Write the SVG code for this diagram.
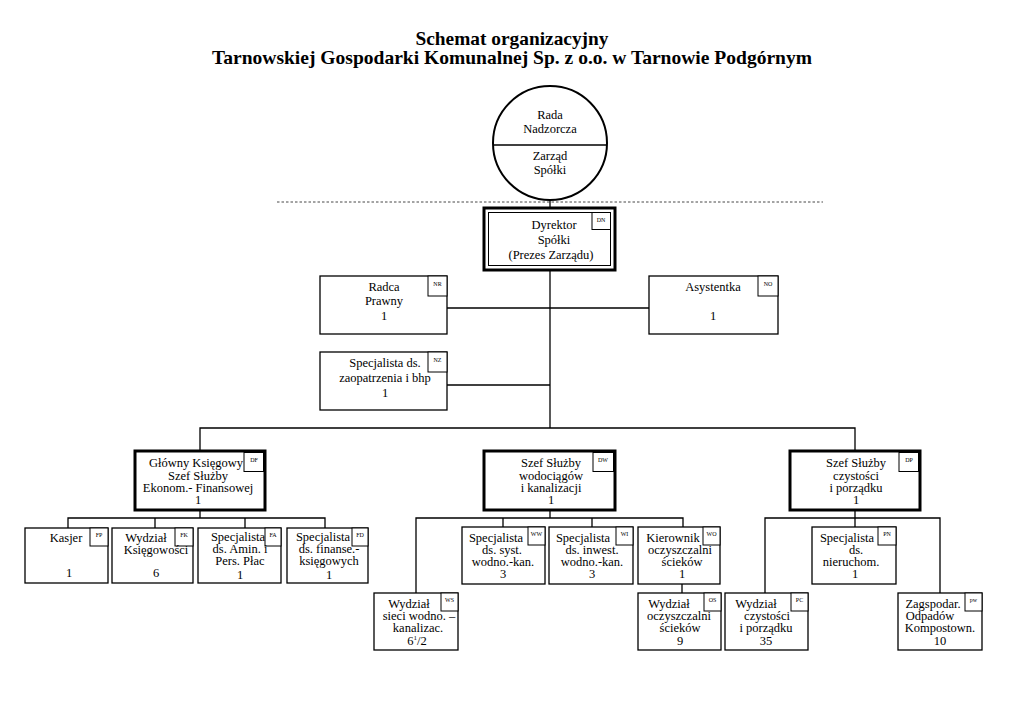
<svg xmlns="http://www.w3.org/2000/svg" width="1024" height="724" viewBox="0 0 1024 724">
<style>
text{font-family:"Liberation Serif","Times New Roman",serif;fill:#000}
.t{font-size:12.5px;text-anchor:middle}
.tag{font-size:6px;text-anchor:middle}
.title{font-size:19px;font-weight:bold;text-anchor:middle}
.box{fill:#fff;stroke:#000;stroke-width:1.3}
.head{fill:#fff;stroke:#000;stroke-width:3}
.tg{fill:#fff;stroke:#000;stroke-width:1}
.ln{fill:none;stroke:#000;stroke-width:1.3}
</style>
<rect width="1024" height="724" fill="#fff"/>
<g id="title">
<text class="title" x="512" y="45" textLength="193" lengthAdjust="spacingAndGlyphs">Schemat organizacyjny</text>
<text class="title" x="512" y="64" textLength="600" lengthAdjust="spacingAndGlyphs">Tarnowskiej Gospodarki Komunalnej Sp. z o.o. w Tarnowie Podgórnym</text>
</g>
<g id="connectors">
<line x1="277" y1="202" x2="823" y2="202" stroke="#333" stroke-width="0.9" stroke-dasharray="2.5,2"/>
<line class="ln" x1="550" y1="198" x2="550" y2="208"/>
<line class="ln" x1="550" y1="270" x2="550" y2="428"/>
<line class="ln" x1="447" y1="308" x2="649" y2="308"/>
<line class="ln" x1="447" y1="385" x2="550" y2="385"/>
<polyline class="ln" points="200,451 200,428 855,428 855,451"/>
<line class="ln" x1="200" y1="510" x2="200" y2="518"/>
<polyline class="ln" points="68,528 68,518 325,518 325,528"/>
<line class="ln" x1="155" y1="518" x2="155" y2="528"/>
<line class="ln" x1="245" y1="518" x2="245" y2="528"/>
<line class="ln" x1="550" y1="510" x2="550" y2="518"/>
<polyline class="ln" points="416,593 416,518 683,518 683,527"/>
<line class="ln" x1="503" y1="518" x2="503" y2="527"/>
<line class="ln" x1="592" y1="518" x2="592" y2="527"/>
<line class="ln" x1="682" y1="584" x2="682" y2="593"/>
<line class="ln" x1="855" y1="510" x2="855" y2="518"/>
<polyline class="ln" points="765,593 765,518 940,518 940,593"/>
<line class="ln" x1="855" y1="518" x2="855" y2="527"/>
</g>
<g id="rada">
<circle cx="550" cy="143" r="57" fill="#fff" stroke="#000" stroke-width="2"/>
<line x1="493" y1="145" x2="607" y2="145" stroke="#000" stroke-width="1.5"/>
<text class="t" x="550" y="119">Rada</text>
<text class="t" x="550" y="133">Nadzorcza</text>
<text class="t" x="550" y="160">Zarząd</text>
<text class="t" x="550" y="174">Spółki</text>
</g>
<g id="dyrektor">
<rect x="484" y="208" width="131" height="62" fill="#fff" stroke="#000" stroke-width="3"/>
<rect x="488.5" y="212.5" width="122" height="53" fill="none" stroke="#000" stroke-width="1"/>
<rect class="tg" x="592" y="212.5" width="18.5" height="17"/>
<text class="tag" x="601" y="222">DN</text>
<text class="t" x="554" y="229">Dyrektor</text>
<text class="t" x="554" y="244">Spółki</text>
<text class="t" x="551" y="259">(Prezes Zarządu)</text>
</g>
<g id="radca">
<rect class="box" x="320" y="276" width="127" height="58"/>
<rect class="tg" x="428" y="276" width="19" height="20"/>
<text class="tag" x="437.5" y="286">NR</text>
<text class="t" x="384" y="291">Radca</text>
<text class="t" x="384" y="305">Prawny</text>
<text class="t" x="384" y="320">1</text>
</g>
<g id="asystentka">
<rect class="box" x="649" y="276" width="129" height="58"/>
<rect class="tg" x="758" y="276" width="20" height="20"/>
<text class="tag" x="768" y="286">NO</text>
<text class="t" x="713" y="291">Asystentka</text>
<text class="t" x="713" y="320">1</text>
</g>
<g id="zaopatrzenie">
<rect class="box" x="320" y="352" width="127" height="58"/>
<rect class="tg" x="428" y="352" width="19" height="20"/>
<text class="tag" x="437.5" y="362">NZ</text>
<text class="t" x="385" y="367">Specjalista ds.</text>
<text class="t" x="385" y="382">zaopatrzenia i bhp</text>
<text class="t" x="385" y="397">1</text>
</g>
<g id="ksiegowy">
<rect class="head" x="135" y="451" width="130" height="59"/>
<rect class="tg" x="244" y="452.5" width="19.5" height="19"/>
<text class="tag" x="254" y="462">DF</text>
<text class="t" x="196" y="467">Główny Księgowy</text>
<text class="t" x="198" y="479.5">Szef Służby</text>
<text class="t" x="198" y="492">Ekonom.- Finansowej</text>
<text class="t" x="198" y="504">1</text>
</g>
<g id="wodociagi">
<rect class="head" x="484" y="451" width="131" height="59"/>
<rect class="tg" x="593" y="452.5" width="20.5" height="19"/>
<text class="tag" x="603" y="462">DW</text>
<text class="t" x="551" y="467">Szef Służby</text>
<text class="t" x="551" y="479.5">wodociągów</text>
<text class="t" x="551" y="492">i kanalizacji</text>
<text class="t" x="551" y="504">1</text>
</g>
<g id="czystosc">
<rect class="head" x="790" y="451" width="130" height="59"/>
<rect class="tg" x="899" y="452.5" width="19.5" height="19"/>
<text class="tag" x="909" y="462">DP</text>
<text class="t" x="856" y="467">Szef Służby</text>
<text class="t" x="856" y="479.5">czystości</text>
<text class="t" x="856" y="492">i porządku</text>
<text class="t" x="856" y="504">1</text>
</g>
<g id="kasjer">
<rect class="box" x="25" y="528" width="83" height="55"/>
<rect class="tg" x="90" y="528" width="18" height="18"/>
<text class="tag" x="99" y="537">FP</text>
<text class="t" x="66" y="542">Kasjer</text>
<text class="t" x="69" y="577">1</text>
</g>
<g id="ksiegowosc">
<rect class="box" x="112" y="528" width="81" height="55"/>
<rect class="tg" x="175" y="528" width="18" height="18"/>
<text class="tag" x="184" y="537">FK</text>
<text class="t" x="146" y="542">Wydział</text>
<text class="t" x="156" y="554">Księgowości</text>
<text class="t" x="156" y="577">6</text>
</g>
<g id="kadry">
<rect class="box" x="198" y="528" width="83" height="55"/>
<rect class="tg" x="265" y="528" width="16" height="18"/>
<text class="tag" x="273" y="537">FA</text>
<text class="t" x="238" y="541">Specjalista</text>
<text class="t" x="240" y="553">ds. Amin. i</text>
<text class="t" x="240" y="565">Pers. Płac</text>
<text class="t" x="240" y="579">1</text>
</g>
<g id="finanse">
<rect class="box" x="287" y="528" width="81" height="55"/>
<rect class="tg" x="352" y="528" width="16" height="18"/>
<text class="tag" x="360" y="537">FD</text>
<text class="t" x="323" y="541">Specjalista</text>
<text class="t" x="329" y="553">ds. finanse.-</text>
<text class="t" x="329" y="565">księgowych</text>
<text class="t" x="329" y="579">1</text>
</g>
<g id="sieci">
<rect class="box" x="374" y="593" width="84" height="57"/>
<rect class="tg" x="441" y="593" width="17" height="18"/>
<text class="tag" x="449.5" y="602">WS</text>
<text class="t" x="409" y="608">Wydział</text>
<text class="t" x="419" y="620">sieci wodno. –</text>
<text class="t" x="418" y="632">kanalizac.</text>
<text class="t" x="417" y="645">6<tspan font-size="7" dy="-5">1</tspan><tspan dy="5">/2</tspan></text>
</g>
<g id="systemy">
<rect class="box" x="462" y="527" width="83" height="57"/>
<rect class="tg" x="528" y="527" width="17" height="18"/>
<text class="tag" x="536.5" y="536">WW</text>
<text class="t" x="496" y="542">Specjalista</text>
<text class="t" x="502" y="554">ds. syst.</text>
<text class="t" x="503" y="566">wodno.-kan.</text>
<text class="t" x="503" y="578">3</text>
</g>
<g id="inwestycje">
<rect class="box" x="549" y="527" width="84" height="57"/>
<rect class="tg" x="616" y="527" width="17" height="18"/>
<text class="tag" x="624.5" y="536">WI</text>
<text class="t" x="583" y="542">Specjalista</text>
<text class="t" x="592" y="554">ds. inwest.</text>
<text class="t" x="592" y="566">wodno.-kan.</text>
<text class="t" x="592" y="578">3</text>
</g>
<g id="kierownik">
<rect class="box" x="638" y="527" width="82" height="57"/>
<rect class="tg" x="703" y="527" width="17" height="18"/>
<text class="tag" x="711.5" y="536">WO</text>
<text class="t" x="673" y="542">Kierownik</text>
<text class="t" x="680" y="554">oczyszczalni</text>
<text class="t" x="682" y="566">ścieków</text>
<text class="t" x="682" y="578">1</text>
</g>
<g id="oczyszczalnia">
<rect class="box" x="638" y="593" width="83" height="57"/>
<rect class="tg" x="704" y="593" width="17" height="18"/>
<text class="tag" x="712.5" y="602">OS</text>
<text class="t" x="669" y="608">Wydział</text>
<text class="t" x="679" y="620">oczyszczalni</text>
<text class="t" x="680" y="632">ścieków</text>
<text class="t" x="680" y="645">9</text>
</g>
<g id="nieruchomosci">
<rect class="box" x="812" y="527" width="84" height="57"/>
<rect class="tg" x="878" y="527" width="18" height="18"/>
<text class="tag" x="887" y="536">PN</text>
<text class="t" x="847" y="542">Specjalista</text>
<text class="t" x="856" y="554">ds.</text>
<text class="t" x="851" y="566">nieruchom.</text>
<text class="t" x="855" y="578">1</text>
</g>
<g id="czystosc-wydzial">
<rect class="box" x="725" y="593" width="83" height="57"/>
<rect class="tg" x="791" y="593" width="17" height="18"/>
<text class="tag" x="799.5" y="602">PC</text>
<text class="t" x="756" y="608">Wydział</text>
<text class="t" x="767" y="620">czystości</text>
<text class="t" x="766" y="632">i porządku</text>
<text class="t" x="766" y="645">35</text>
</g>
<g id="kompostownia">
<rect class="box" x="898" y="593" width="84" height="57"/>
<rect class="tg" x="965" y="593" width="17" height="18"/>
<text class="tag" x="973.5" y="602">pw</text>
<text class="t" x="933" y="608">Zagspodar.</text>
<text class="t" x="930" y="620">Odpadów</text>
<text class="t" x="940" y="632">Kompostown.</text>
<text class="t" x="940" y="645">10</text>
</g>
</svg>
